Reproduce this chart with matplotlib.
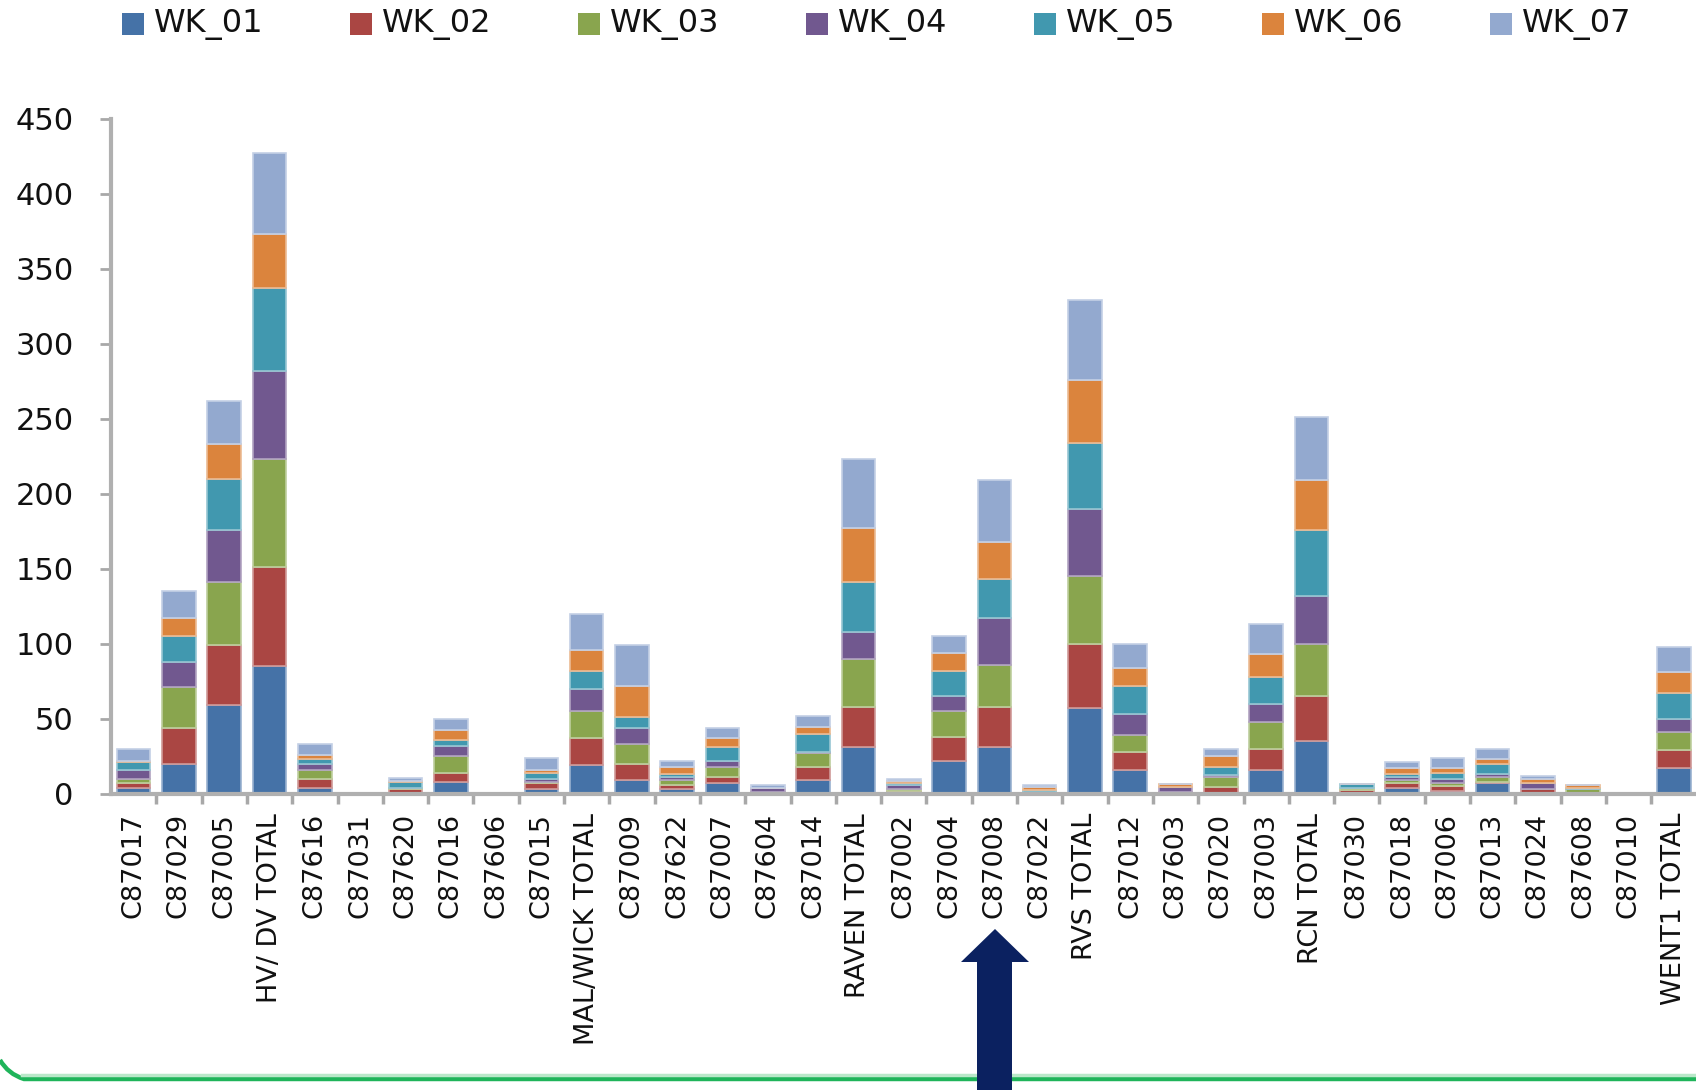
import matplotlib
matplotlib.use("Agg")
import matplotlib.pyplot as plt
import numpy as np
from matplotlib.patches import Rectangle, Polygon, PathPatch
from matplotlib.path import Path
from matplotlib.colors import to_rgb

categories = ["C87017", "C87029", "C87005", "HV/ DV TOTAL", "C87616", "C87031", "C87620",
              "C87016", "C87606", "C87015", "MAL/WICK TOTAL", "C87009", "C87622", "C87007",
              "C87604", "C87014", "RAVEN TOTAL", "C87002", "C87004", "C87008", "C87022",
              "RVS TOTAL", "C87012", "C87603", "C87020", "C87003", "RCN TOTAL", "C87030",
              "C87018", "C87006", "C87013", "C87024", "C87608", "C87010", "WENT1 TOTAL"]

series_names = ["WK_01", "WK_02", "WK_03", "WK_04", "WK_05", "WK_06", "WK_07"]

wk_01 = [4, 20, 59, 85, 4, 0, 0.5, 8, 0, 3, 19, 9, 3, 7, 0, 9, 31, 1, 22, 31, 0.5,
         57, 16, 0, 0.5, 16, 35, 0.5, 4, 2, 7, 0, 0, 0, 17]
wk_02 = [3, 24, 40, 66, 6, 0, 2.5, 6, 0, 4, 18, 11, 3, 4, 0, 9, 27, 0.5, 16, 27, 0,
         43, 12, 1, 4, 14, 30, 2, 3, 3, 1, 3, 0, 0, 12]
wk_03 = [3, 27, 42, 72, 6, 0, 0.5, 11, 0, 1, 18, 13, 3, 7, 1, 9, 32, 1.5, 17, 28, 0.5,
         45, 11, 0, 6.5, 18, 35, 1.5, 2, 2, 3, 0, 3, 0, 12]
wk_04 = [6, 17, 35, 59, 4, 0, 0.5, 7, 0, 2, 15, 11, 2, 4, 3, 1, 18, 2.5, 10, 31, 0,
         45, 14, 3.5, 1.5, 12, 32, 0, 2, 3, 2, 4, 0, 0, 9]
wk_05 = [5, 17, 34, 55, 3, 0, 3.5, 4, 0, 4, 12, 7, 2, 9, 0, 12, 33, 1.5, 17, 26, 1.5,
         44, 19, 0, 5.5, 18, 44, 2.5, 2, 4, 7, 0, 1, 0, 17]
wk_06 = [1, 12, 23, 36, 3, 0, 1, 6.5, 0, 2, 14, 21, 5, 6, 0, 4.5, 36, 1.5, 12, 25, 2,
         42, 12, 2, 7, 15, 33, 0, 4, 3, 3, 3, 2, 0, 14]
wk_07 = [8, 18, 29, 54, 7, 0, 2, 7.5, 0, 8, 24, 27, 4, 7, 2, 7, 46, 1.5, 11, 41, 1.5,
         53, 16, 0, 5, 20, 42, 0, 4, 7, 6.5, 2, 0, 0, 17]

series = [wk_01, wk_02, wk_03, wk_04, wk_05, wk_06, wk_07]
colors = ["#4572A7", "#AA4643", "#89A54E", "#71588F", "#4198AF", "#DB843D", "#93A9CF"]

W, H = 1696, 1090
fig = plt.figure(figsize=(W / 100, H / 100), dpi=100)
fig.patch.set_facecolor("white")

ax_left = 111 / W
ax_bottom = (H - 793.5) / H
ax_width = 35 * 45.3 / W
ax_height = (793.5 - 119) / H
ax = fig.add_axes([ax_left, ax_bottom, ax_width, ax_height])

x = np.arange(len(categories))
bottom = np.zeros(len(categories))
bar_w = 0.74
for vals, col in zip(series, colors):
    v = np.array(vals, dtype=float)
    rgb = np.array(to_rgb(col))
    light = tuple(rgb + (1 - rgb) * 0.45)
    ax.bar(x, v, bar_w, bottom=bottom, color=col, edgecolor=light, linewidth=1.2, zorder=3)
    bottom += v

ax.set_xlim(-0.5, len(categories) - 0.5)
ax.set_ylim(0, 450)
ax.set_yticks(np.arange(0, 451, 50))

spine_col = "#b0b0b0"
for s in ["top", "right"]:
    ax.spines[s].set_visible(False)
for s in ["left", "bottom"]:
    ax.spines[s].set_color(spine_col)
    ax.spines[s].set_linewidth(3)
    ax.spines[s].set_zorder(4)

ax.tick_params(axis="y", direction="out", length=8, width=2, color="#a8a8a8",
               labelsize=22, pad=19, labelcolor="#111111")
ax.set_xticks(x)
ax.set_xticklabels(categories, rotation=90, fontsize=19.5, color="#111111")
ax.tick_params(axis="x", which="major", length=0, pad=14)
ax.set_xticks(np.arange(0.5, len(categories) - 0.5, 1), minor=True)
ax.tick_params(axis="x", which="minor", direction="out", length=7, width=2.5, color="#a8a8a8")

# legend (manual, across the top)
for i, (name, col) in enumerate(zip(series_names, colors)):
    sx = 122 + 228 * i
    fig.add_artist(Rectangle((sx / W, (H - 35) / H), 22 / W, 22 / H,
                             transform=fig.transFigure, facecolor=col, edgecolor="none"))
    fig.text((sx + 32) / W, (H - 24) / H, name, fontsize=23, va="center", ha="left",
             color="#111111")

# green decorative line with rounded left end
gy = (H - 1079) / H
fig.add_artist(plt.Line2D([22 / W, 1.0], [(H - 1075) / H] * 2, transform=fig.transFigure,
                          color="#b9e8c9", linewidth=2.5))
verts = [(0, (H - 1060) / H), (8 / W, (H - 1074) / H), (24 / W, gy), (1.0, gy)]
codes = [Path.MOVETO, Path.CURVE3, Path.CURVE3, Path.LINETO]
fig.add_artist(PathPatch(Path(verts, codes), transform=fig.transFigure, facecolor="none",
                         edgecolor="#1fb45a", linewidth=3.2))

# navy arrow pointing up
pts = [(995, 929), (1029, 962), (1012, 962), (1012, 1092), (977, 1092), (977, 962), (961, 962)]
fig.add_artist(Polygon([(px / W, (H - py) / H) for px, py in pts], closed=True,
                       transform=fig.transFigure, facecolor="#0b2160", edgecolor="none",
                       zorder=10))

fig.savefig("out.png", dpi=100)
